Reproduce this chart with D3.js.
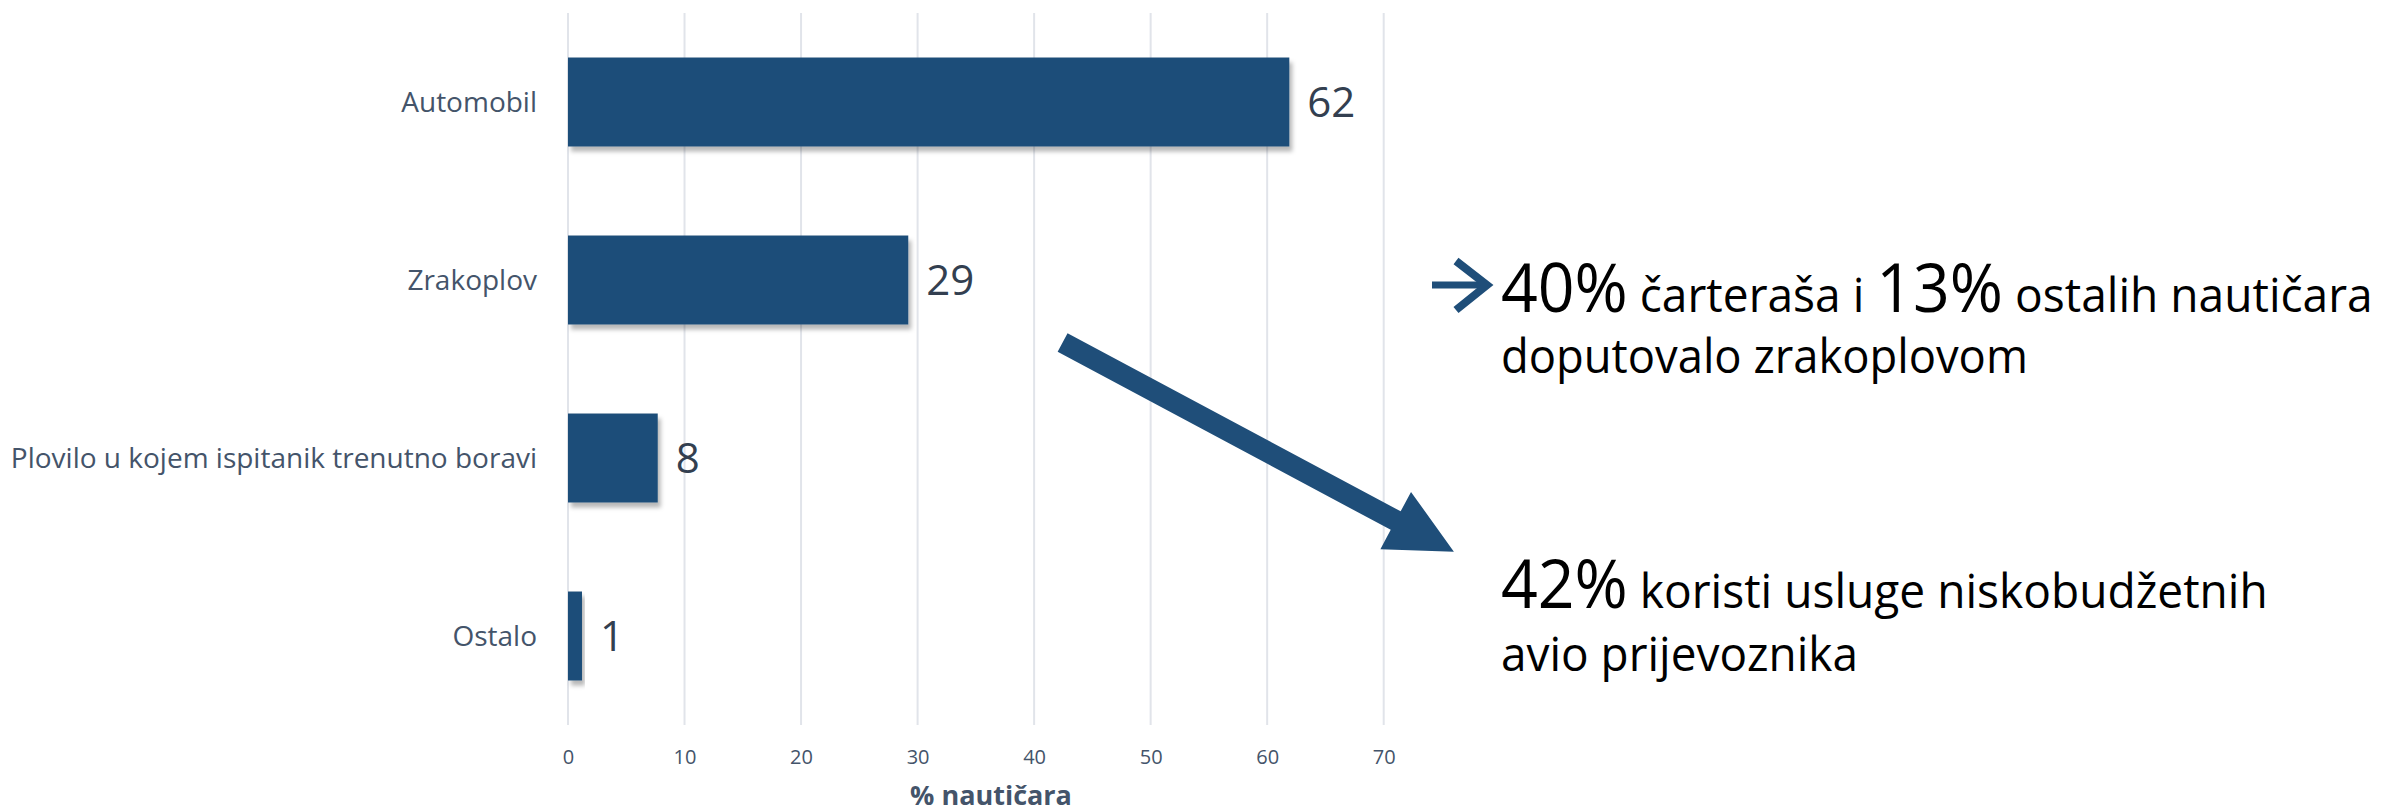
<!DOCTYPE html>
<html>
<head>
<meta charset="utf-8">
<script src="https://cdn.jsdelivr.net/npm/d3@7"></script>
<style>
  body { margin: 0; background: #fff; }
  svg text { font-family: "Open Sans", sans-serif; }
</style>
</head>
<body>
<div id="chart"></div>
<script>
// data
var categories = ["Automobil", "Zrakoplov", "Plovilo u kojem ispitanik trenutno boravi", "Ostalo"];
var values = [61.9, 29.2, 7.7, 1.2];
var valueLabels = ["62", "29", "8", "1"];
var xTicks = [0, 10, 20, 30, 40, 50, 60, 70];
var axisTitle = "% nautičara";

// annotation text: [text, big?]
var note1Line1 = [["40%", true], [" čarteraša i ", false], ["13%", true], [" ostalih nautičara", false]];
var note1Line2 = [["doputovalo zrakoplovom", false]];
var note2Line1 = [["42%", true], [" koristi usluge niskobudžetnih", false]];
var note2Line2 = [["avio prijevoznika", false]];

var width = 2382, height = 812;
var blue = "#1f4e79", textGrey = "#44546a";

var svg = d3.select("#chart").append("svg")
  .attr("width", width)
  .attr("height", height);

var defs = svg.append("defs");
defs.append("filter")
  .attr("id", "bar-shadow")
  .attr("x", "-10%").attr("y", "-10%")
  .attr("width", "130%").attr("height", "140%")
  .append("feDropShadow")
  .attr("dx", 3).attr("dy", 5)
  .attr("stdDeviation", 2)
  .attr("flood-color", "#000")
  .attr("flood-opacity", 0.28);

var x = d3.scaleLinear().domain([0, 72.6]).range([568, 1414]);
var y = d3.scaleBand().domain(categories).range([13, 725])
  .paddingInner(0.5).paddingOuter(0.25);

// gridlines
svg.append("g").selectAll("line")
  .data(xTicks)
  .enter().append("line")
  .attr("x1", function(d) { return x(d); })
  .attr("x2", function(d) { return x(d); })
  .attr("y1", 13).attr("y2", 725)
  .attr("stroke", "#e1e4ea")
  .attr("stroke-width", 2);

// x axis
var xAxis = svg.append("g")
  .attr("transform", "translate(0,725)")
  .call(d3.axisBottom(x).tickValues(xTicks).tickSize(0).tickPadding(0));
xAxis.select(".domain").remove();
xAxis.selectAll("text")
  .attr("y", 39)
  .attr("dy", 0)
  .style("font-size", "20px")
  .style("font-family", "'Open Sans', sans-serif")
  .attr("fill", textGrey);

svg.append("text")
  .attr("x", (x.range()[0] + x.range()[1]) / 2)
  .attr("y", 805)
  .attr("text-anchor", "middle")
  .style("font-size", "27px")
  .style("font-weight", "bold")
  .attr("fill", textGrey)
  .text(axisTitle);

// category labels
var yAxis = svg.append("g")
  .attr("transform", "translate(" + x(0) + ",0)")
  .call(d3.axisLeft(y).tickSize(0).tickPadding(31));
yAxis.select(".domain").remove();
yAxis.selectAll("text")
  .attr("dy", "0.35em")
  .style("font-size", "28px")
  .style("font-family", "'Open Sans', sans-serif")
  .attr("fill", textGrey);

// bars
svg.append("g").selectAll("rect")
  .data(values)
  .enter().append("rect")
  .attr("x", x(0))
  .attr("y", function(d, i) { return y(categories[i]); })
  .attr("width", function(d) { return x(d) - x(0); })
  .attr("height", y.bandwidth())
  .attr("fill", blue)
  .style("filter", "url(#bar-shadow)");

// value labels
svg.append("g").selectAll("text")
  .data(values)
  .enter().append("text")
  .attr("x", function(d) { return x(d) + 18; })
  .attr("y", function(d, i) { return y(categories[i]) + y.bandwidth() / 2; })
  .attr("dy", "0.36em")
  .style("font-size", "42px")
  .attr("fill", "#333f50")
  .text(function(d, i) { return valueLabels[i]; });

// big pointing arrow
function blockArrow(sx, sy, tx, ty, shaft, headW, headL) {
  var dx = tx - sx, dy = ty - sy, len = Math.sqrt(dx * dx + dy * dy);
  var ux = dx / len, uy = dy / len, nx = -uy, ny = ux;
  var bx = tx - ux * headL, by = ty - uy * headL;
  var pts = [
    [sx + nx * shaft / 2, sy + ny * shaft / 2],
    [bx + nx * shaft / 2, by + ny * shaft / 2],
    [bx + nx * headW / 2, by + ny * headW / 2],
    [tx, ty],
    [bx - nx * headW / 2, by - ny * headW / 2],
    [bx - nx * shaft / 2, by - ny * shaft / 2],
    [sx - nx * shaft / 2, sy - ny * shaft / 2]
  ];
  return "M" + pts.map(function(p) { return p.join(","); }).join("L") + "Z";
}
svg.append("path")
  .attr("d", blockArrow(1062.6, 342.5, 1453.9, 551.7, 21, 65, 66))
  .attr("fill", blue);

// small arrow bullet
var bullet = svg.append("g").attr("fill", "none").attr("stroke", blue);
bullet.append("line")
  .attr("x1", 1432).attr("x2", 1486)
  .attr("y1", 285).attr("y2", 285)
  .attr("stroke-width", 7);
bullet.append("path")
  .attr("d", "M1456,261L1487,285L1456,310")
  .attr("stroke-width", 8);

// annotation text, each line stretched to the width seen in the picture
function noteLine(parts, x0, baseline, targetW) {
  var t = svg.append("text")
    .attr("transform", "translate(" + x0 + "," + baseline + ")")
    .attr("fill", "#000");
  parts.forEach(function(p) {
    t.append("tspan")
      .style("font-size", p[1] ? "67px" : "48px")
      .text(p[0]);
  });
  var w = t.node().getComputedTextLength();
  t.attr("transform", "translate(" + x0 + "," + baseline + ") scale(" + (targetW / w) + ",1)");
}
noteLine(note1Line1, 1501, 312, 872);
noteLine(note1Line2, 1501, 373, 527);
noteLine(note2Line1, 1501, 608, 767);
noteLine(note2Line2, 1501, 671, 357);
</script>
</body>
</html>
